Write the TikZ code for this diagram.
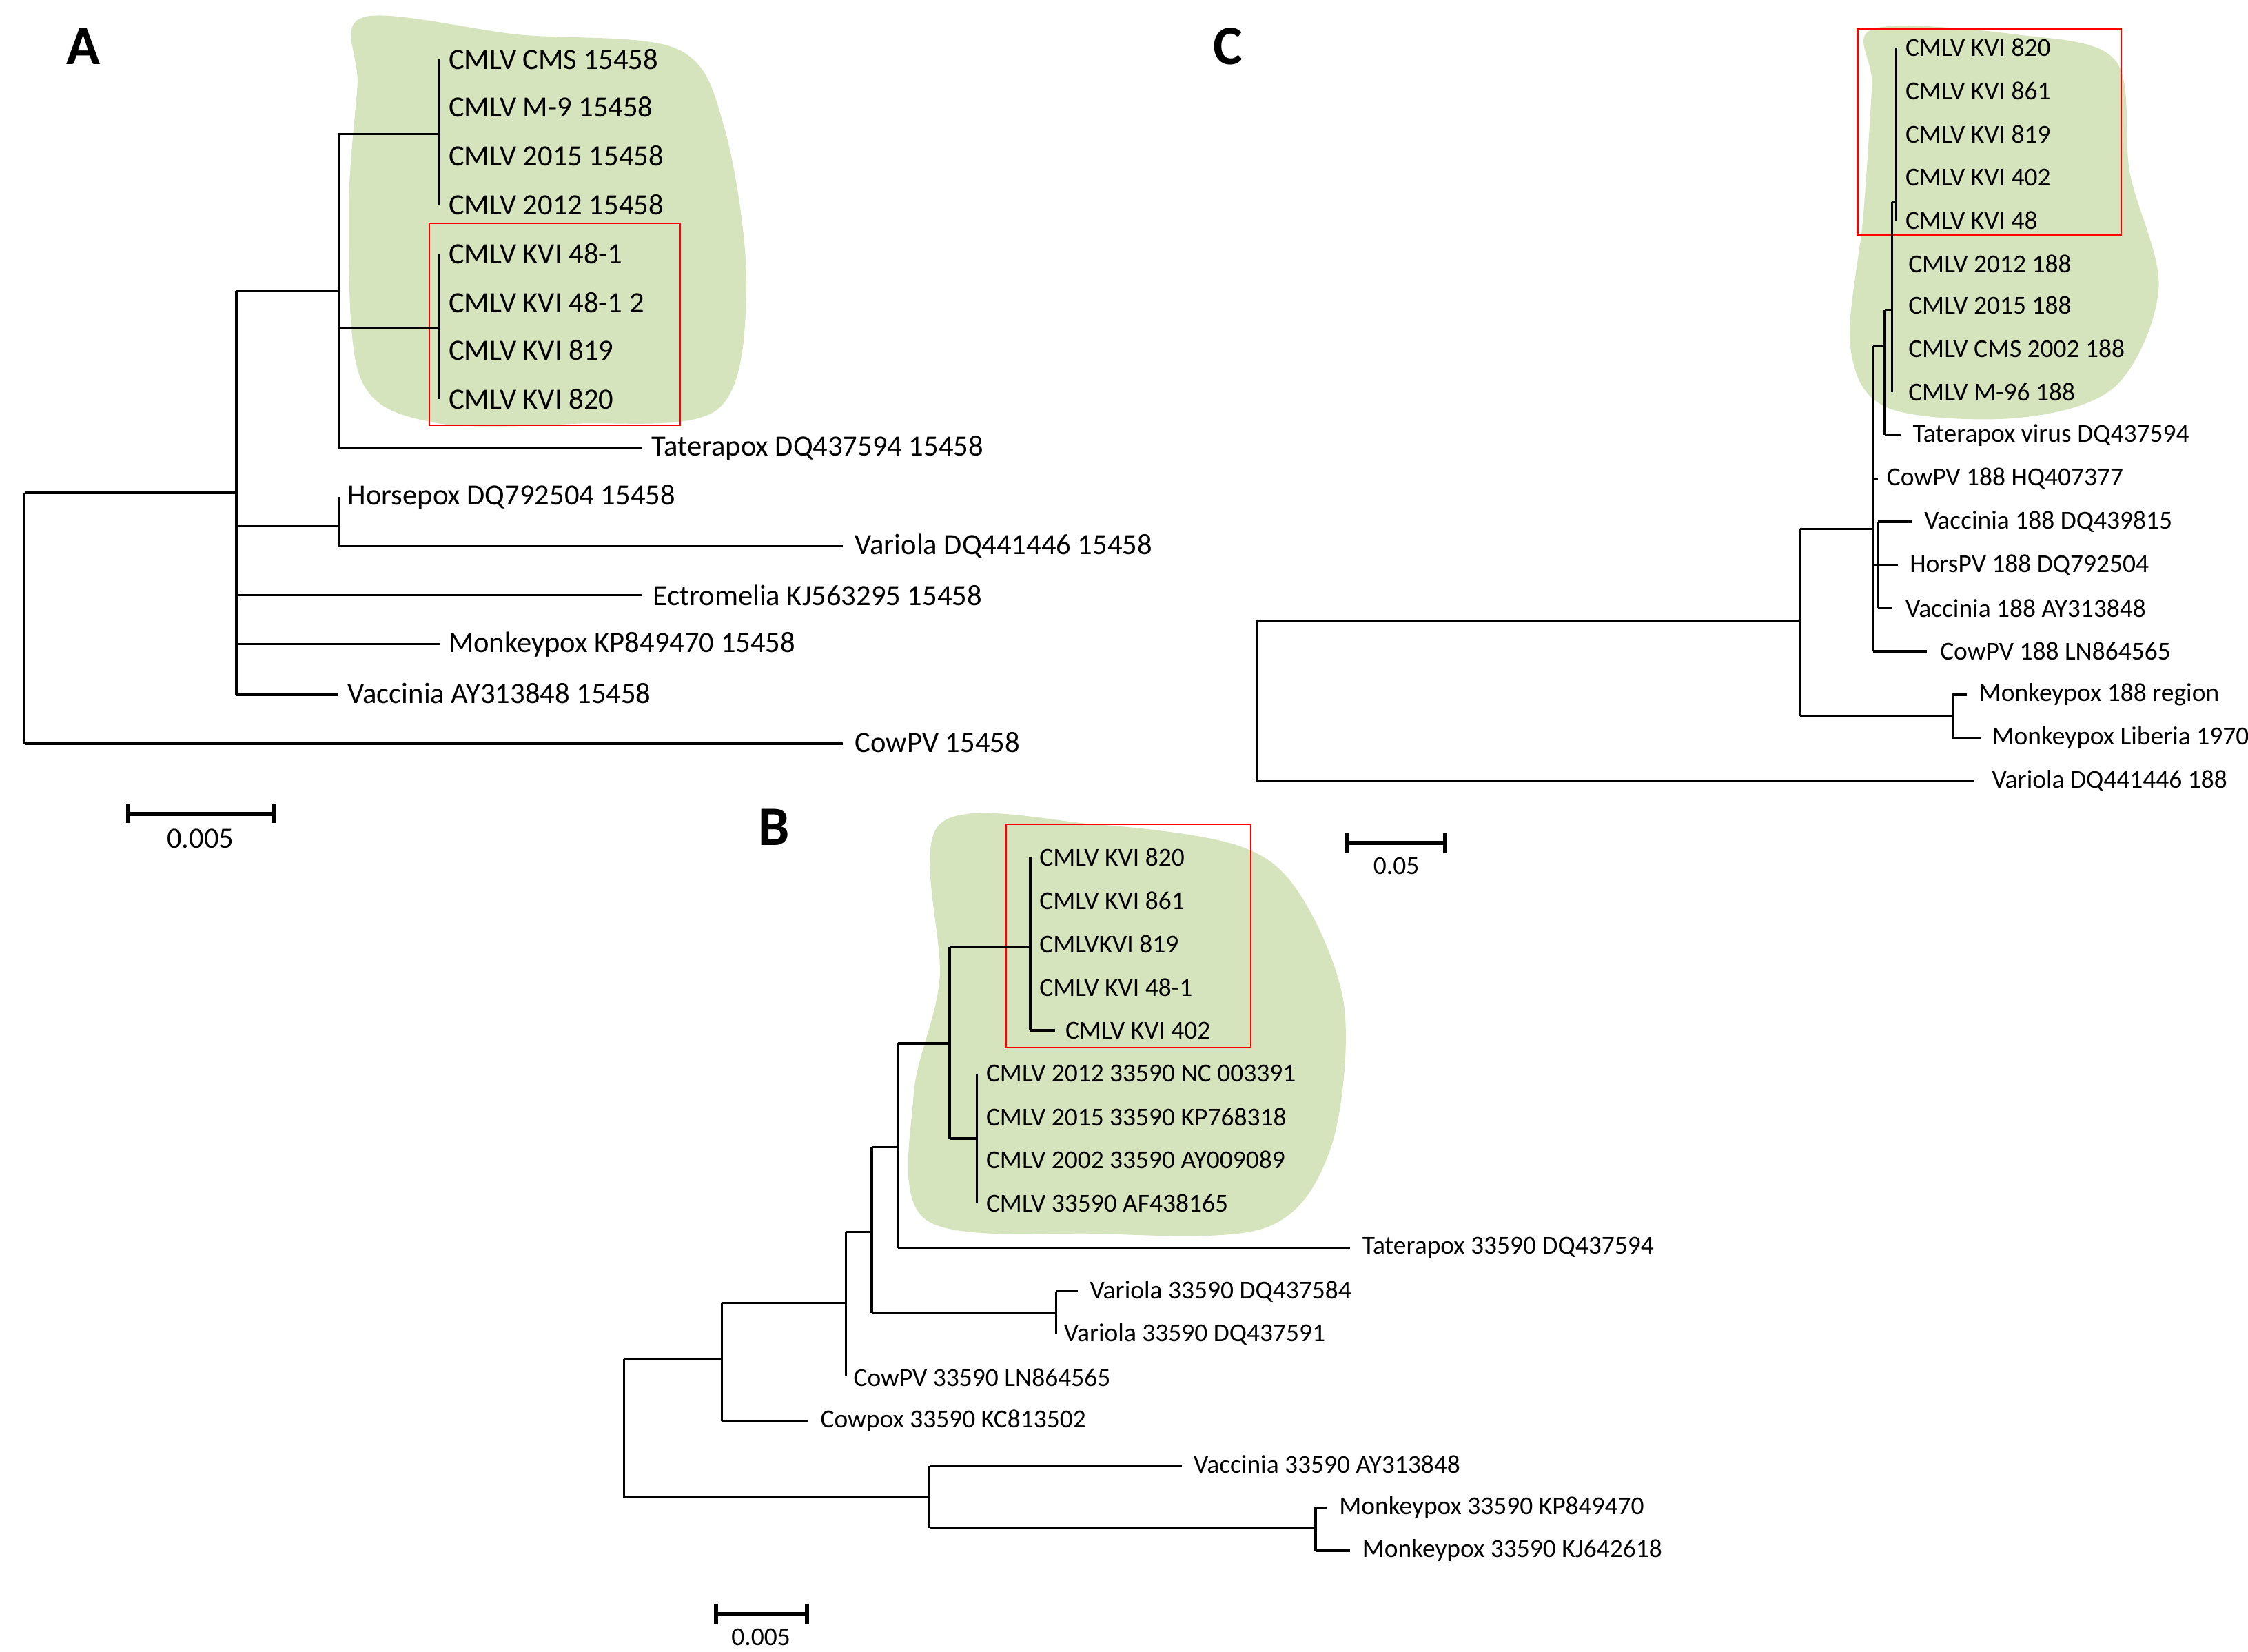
\documentclass[tikz,border=0pt]{standalone}
\usepackage{fontspec}
\setmainfont{Carlito}
\begin{document}
\begin{tikzpicture}[x=0.02cm,y=-0.02cm,
  tr/.style={line width=0.9pt},
  la/.style={anchor=west,inner sep=0pt,font=\fontsize{11.6}{12}\selectfont},
  lb/.style={anchor=west,inner sep=0pt,font=\fontsize{10.2}{11}\selectfont},
  box/.style={draw=red,line width=0.7pt},
  pan/.style={font=\fontsize{22}{22}\selectfont\bfseries,inner sep=0pt},
  sb/.style={line width=1.6pt}]
\useasboundingbox (0,0) rectangle (1560,1146);
\definecolor{gr}{HTML}{D5E4BC}
% ---------- Panel A
\fill[gr] plot[smooth cycle,tension=0.55] coordinates {(252,12) (360,24) (470,34) (503,90) (518,200) (498,284) (400,294) (300,293) (250,262) (242,150) (248,60)};
\draw[box] (298,155) rectangle (472,295);
\node[pan] (A) at (58,32) {A};
\draw[tr] (17,342)--(17,516);
\draw[tr] (17,342)--(164,342); \draw[tr] (17,516)--(585,516);
\draw[tr] (164,202)--(164,482);
\draw[tr] (164,202)--(235,202); \draw[tr] (164,365)--(235,365);
\draw[tr] (164,413)--(445,413); \draw[tr] (164,447)--(305,447); \draw[tr] (164,482)--(235,482);
\draw[tr] (235,345)--(235,379); \draw[tr] (235,379)--(585,379);
\draw[tr] (235,93)--(235,311); \draw[tr] (235,93)--(305,93); \draw[tr] (235,228)--(305,228); \draw[tr] (235,311)--(445,311);
\draw[tr] (305,41)--(305,142); \draw[tr] (305,176)--(305,277);
\node[la] (a1) at (311,41) {CMLV CMS 15458};
\node[la] (a2) at (311,74) {CMLV M-9 15458};
\node[la] (a3) at (311,108) {CMLV 2015 15458};
\node[la] (a4) at (311,142) {CMLV 2012 15458};
\node[la] (a5) at (311,176) {CMLV KVI 48-1};
\node[la] (a6) at (311,210) {CMLV KVI 48-1 2};
\node[la] (a7) at (311,243) {CMLV KVI 819};
\node[la] (a8) at (311,277) {CMLV KVI 820};
\node[la] (a9) at (452,311) {Taterapox DQ437594 15458};
\node[la] (a10) at (241,345) {Horsepox DQ792504 15458};
\node[la] (a11) at (593,379) {Variola DQ441446 15458};
\node[la] (a12) at (453,413) {Ectromelia KJ563295 15458};
\node[la] (a13) at (311,447) {Monkeypox KP849470 15458};
\node[la] (a14) at (241,481) {Vaccinia AY313848 15458};
\node[la] (a15) at (593,515) {CowPV 15458};
\draw[sb] (89,558)--(89,571); \draw[sb] (190,558)--(190,571); \draw[sb] (89,565)--(190,565);
\node[la,anchor=center] (sa) at (139,582) {0.005};
% ---------- Panel C
\fill[gr] plot[smooth cycle,tension=0.55] coordinates {(1300,20) (1400,24) (1468,42) (1478,120) (1498,200) (1468,268) (1400,290) (1310,283) (1284,240) (1293,150) (1299,60)};
\draw[box] (1289,20) rectangle (1472,163);
\node[pan] (C) at (852,32) {C};
\draw[tr] (872,431)--(872,542); \draw[tr] (872,431)--(1249,431); \draw[tr] (872,542)--(1370,542);
\draw[tr] (1249,367)--(1249,497); \draw[tr] (1249,367)--(1300,367); \draw[tr] (1249,497)--(1355,497);
\draw[tr] (1355,482)--(1355,512); \draw[tr] (1355,482)--(1365,482); \draw[tr] (1355,512)--(1375,512);
\draw[tr] (1300,240)--(1300,452); \draw[tr] (1300,452)--(1337,452); \draw[tr] (1300,332)--(1303,332);
\draw[tr] (1300,392)--(1303,392); \draw[tr] (1303,362)--(1303,422);
\draw[tr] (1303,362)--(1327,362); \draw[tr] (1303,392)--(1317,392); \draw[tr] (1303,422)--(1313,422);
\draw[tr] (1300,240)--(1308,240); \draw[tr] (1308,215)--(1308,302); \draw[tr] (1308,302)--(1319,302);
\draw[tr] (1308,215)--(1313,215); \draw[tr] (1313,140)--(1313,272);
\draw[tr] (1313,140)--(1316,140); \draw[tr] (1316,33)--(1316,153);
\node[lb] (c1) at (1322,33) {CMLV KVI 820};
\node[lb] (c2) at (1322,63) {CMLV KVI 861};
\node[lb] (c3) at (1322,93) {CMLV KVI 819};
\node[lb] (c4) at (1322,123) {CMLV KVI 402};
\node[lb] (c5) at (1322,153) {CMLV KVI 48};
\node[lb] (c6) at (1324,183) {CMLV 2012 188};
\node[lb] (c7) at (1324,212) {CMLV 2015 188};
\node[lb] (c8) at (1324,242) {CMLV CMS 2002 188};
\node[lb] (c9) at (1324,272) {CMLV M-96 188};
\node[lb] (c10) at (1327,302) {Taterapox virus DQ437594};
\node[lb] (c11) at (1309,332) {CowPV 188 HQ407377};
\node[lb] (c12) at (1335,362) {Vaccinia 188 DQ439815};
\node[lb] (c13) at (1325,392) {HorsPV 188 DQ792504};
\node[lb] (c14) at (1322,422) {Vaccinia 188 AY313848};
\node[lb] (c15) at (1346,452) {CowPV 188 LN864565};
\node[lb] (c16) at (1373,482) {Monkeypox 188 region};
\node[lb] (c17) at (1382,512) {Monkeypox Liberia 1970};
\node[lb] (c18) at (1382,542) {Variola DQ441446 188};
\draw[sb] (935,578)--(935,592); \draw[sb] (1003,578)--(1003,592); \draw[sb] (935,585)--(1003,585);
\node[lb,anchor=center] (sc) at (969,601) {0.05};
% ---------- Panel B
\fill[gr] plot[smooth cycle,tension=0.55] coordinates {(652,572) (760,572) (860,587) (903,622) (933,700) (923,798) (878,852) (760,856) (642,846) (634,760) (652,680)};
\draw[box] (698,572) rectangle (868,727);
\node[pan] (B) at (537,574) {B};
\draw[tr] (433,943)--(433,1039); \draw[tr] (433,943)--(501,943); \draw[tr] (433,1039)--(645,1039);
\draw[tr] (645,1017)--(645,1060); \draw[tr] (645,1017)--(820,1017); \draw[tr] (645,1060)--(913,1060);
\draw[tr] (913,1046)--(913,1076); \draw[tr] (913,1046)--(921,1046); \draw[tr] (913,1076)--(937,1076);
\draw[tr] (501,904)--(501,986); \draw[tr] (501,986)--(561,986); \draw[tr] (501,904)--(587,904);
\draw[tr] (587,855)--(587,955); \draw[tr] (587,855)--(605,855);
\draw[tr] (605,796)--(605,911); \draw[tr] (605,911)--(733,911); \draw[tr] (605,796)--(623,796);
\draw[tr] (733,896)--(733,926); \draw[tr] (733,896)--(748,896);
\draw[tr] (623,724)--(623,866); \draw[tr] (623,866)--(937,866); \draw[tr] (623,724)--(659,724);
\draw[tr] (659,657)--(659,790); \draw[tr] (659,657)--(715,657); \draw[tr] (659,790)--(678,790);
\draw[tr] (678,745)--(678,835);
\draw[tr] (715,595)--(715,715); \draw[tr] (715,715)--(732,715);
\node[lb] (b1) at (721,595) {CMLV KVI 820};
\node[lb] (b2) at (721,625) {CMLV KVI 861};
\node[lb] (b3) at (721,655) {CMLVKVI 819};
\node[lb] (b4) at (721,685) {CMLV KVI 48-1};
\node[lb] (b5) at (739,715) {CMLV KVI 402};
\node[lb] (b6) at (684,745) {CMLV 2012 33590 NC 003391};
\node[lb] (b7) at (684,775) {CMLV 2015 33590 KP768318};
\node[lb] (b8) at (684,805) {CMLV 2002 33590 AY009089};
\node[lb] (b9) at (684,835) {CMLV 33590 AF438165};
\node[lb] (b10) at (945,866) {Taterapox 33590 DQ437594};
\node[lb] (b11) at (756,896) {Variola 33590 DQ437584};
\node[lb] (b12) at (738,926) {Variola 33590 DQ437591};
\node[lb] (b13) at (592,956) {CowPV 33590 LN864565};
\node[lb] (b14) at (569,986) {Cowpox 33590 KC813502};
\node[lb] (b15) at (828,1016) {Vaccinia 33590 AY313848};
\node[lb] (b16) at (929,1046) {Monkeypox 33590 KP849470};
\node[lb] (b17) at (945,1076) {Monkeypox 33590 KJ642618};
\draw[sb] (497,1113)--(497,1127); \draw[sb] (560,1113)--(560,1127); \draw[sb] (497,1120)--(560,1120);
\node[lb,anchor=center] (sbl) at (528,1136) {0.005};
\end{tikzpicture}
\end{document}
